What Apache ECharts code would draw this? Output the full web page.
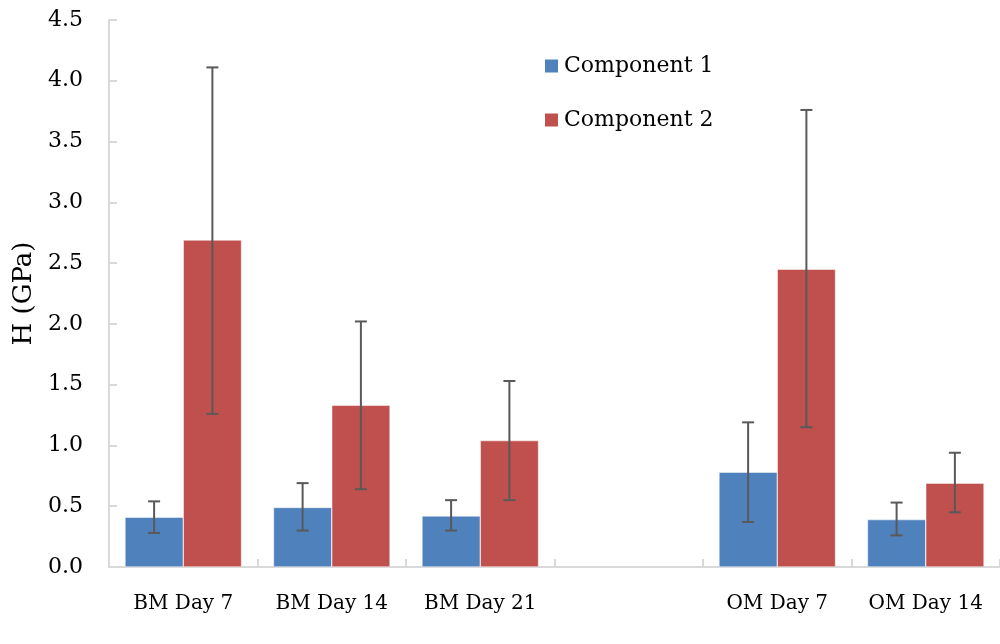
<!DOCTYPE html>
<html lang="en">
<head>
    <meta charset="UTF-8">
    <title>H (GPa)</title>
    <script src="https://cdn.jsdelivr.net/npm/echarts/dist/echarts.min.js"></script>
    <style>
        body { margin: 0; padding: 0; background: white; }
        #chartContainer { width: 1000px; height: 644px; }
    </style>
</head>
<body>
    <div id="chartContainer"></div>
    <script>
        // categories (the blank one is the gap between BM and OM)
        const categories = ['BM Day 7', 'BM Day 14', 'BM Day 21', '', 'OM Day 7', 'OM Day 14'];

        // mean values
        const comp1 = [0.41, 0.49, 0.42, null, 0.78, 0.39];
        const comp2 = [2.69, 1.33, 1.04, null, 2.45, 0.69];

        // error bar ends [low, high]
        const comp1Err = [[0.28, 0.54], [0.30, 0.69], [0.30, 0.55], null, [0.37, 1.19], [0.26, 0.53]];
        const comp2Err = [[1.26, 4.11], [0.64, 2.02], [0.55, 1.53], null, [1.15, 3.76], [0.45, 0.94]];

        const yTicks = { min: 0, max: 4.5, interval: 0.5 };

        const font = 'DejaVu Serif';
        const catGap = 0.215;

        function errData(errs) {
            return errs.map((e, i) => e ? [i, e[0], e[1]] : null).filter(d => d);
        }

        // draws the whisker for one bar, shifted left or right of category centre
        function errRender(side) {
            return function (params, api) {
                const idx = api.value(0);
                const low = api.coord([idx, api.value(1)]);
                const high = api.coord([idx, api.value(2)]);
                const catW = api.size([1, 0])[0];
                const barW = catW * (1 - catGap) / 2;
                const x = low[0] + side * barW / 2;
                const cap = 6;
                const style = { stroke: '#595959', lineWidth: 2 };
                return {
                    type: 'group',
                    children: [
                        { type: 'line', shape: { x1: x, y1: low[1], x2: x, y2: high[1] }, style: style },
                        { type: 'line', shape: { x1: x - cap, y1: low[1], x2: x + cap, y2: low[1] }, style: style },
                        { type: 'line', shape: { x1: x - cap, y1: high[1], x2: x + cap, y2: high[1] }, style: style }
                    ]
                };
            };
        }

        const chart = echarts.init(document.getElementById('chartContainer'));

        const option = {
            backgroundColor: '#ffffff',
            animation: false,
            textStyle: { fontFamily: font },
            grid: { left: 109, right: 0, top: 20, bottom: 77, containLabel: false },
            legend: {
                orient: 'vertical',
                left: 538,
                top: 50,
                itemWidth: 15,
                itemHeight: 15,
                itemGap: 32,
                icon: 'rect',
                data: ['Component 1', 'Component 2'],
                textStyle: { fontFamily: font, fontSize: 22, color: '#000' }
            },
            xAxis: {
                type: 'category',
                data: categories,
                axisLine: { lineStyle: { color: '#D9D9D9', width: 2 } },
                axisTick: { show: true, inside: true, length: 8, lineStyle: { color: '#D9D9D9', width: 2 } },
                axisLabel: { fontFamily: font, fontSize: 20, color: '#000', margin: 27, interval: 0 },
                splitLine: { show: false }
            },
            yAxis: {
                type: 'value',
                min: yTicks.min,
                max: yTicks.max,
                interval: yTicks.interval,
                name: 'H (GPa)',
                nameLocation: 'middle',
                nameGap: 72,
                nameTextStyle: { fontFamily: font, fontSize: 26, color: '#000' },
                axisLine: { show: true, lineStyle: { color: '#D9D9D9', width: 2 } },
                axisTick: { show: true, inside: true, length: 8, lineStyle: { color: '#D9D9D9', width: 2 } },
                axisLabel: {
                    fontFamily: font, fontSize: 22, color: '#000', margin: 26,
                    formatter: v => v.toFixed(1)
                },
                splitLine: { show: false }
            },
            series: [
                {
                    name: 'Component 1',
                    type: 'bar',
                    data: comp1,
                    barGap: '0%',
                    barCategoryGap: (catGap * 100) + '%',
                    itemStyle: { color: '#4F81BD', borderColor: '#ffffff', borderWidth: 0.5 }
                },
                {
                    name: 'Component 2',
                    type: 'bar',
                    data: comp2,
                    barGap: '0%',
                    barCategoryGap: (catGap * 100) + '%',
                    itemStyle: { color: '#C0504D', borderColor: '#ffffff', borderWidth: 0.5 }
                },
                {
                    type: 'custom',
                    renderItem: errRender(-1),
                    data: errData(comp1Err),
                    z: 10
                },
                {
                    type: 'custom',
                    renderItem: errRender(1),
                    data: errData(comp2Err),
                    z: 10
                }
            ]
        };

        chart.setOption(option);
    </script>
</body>
</html>
